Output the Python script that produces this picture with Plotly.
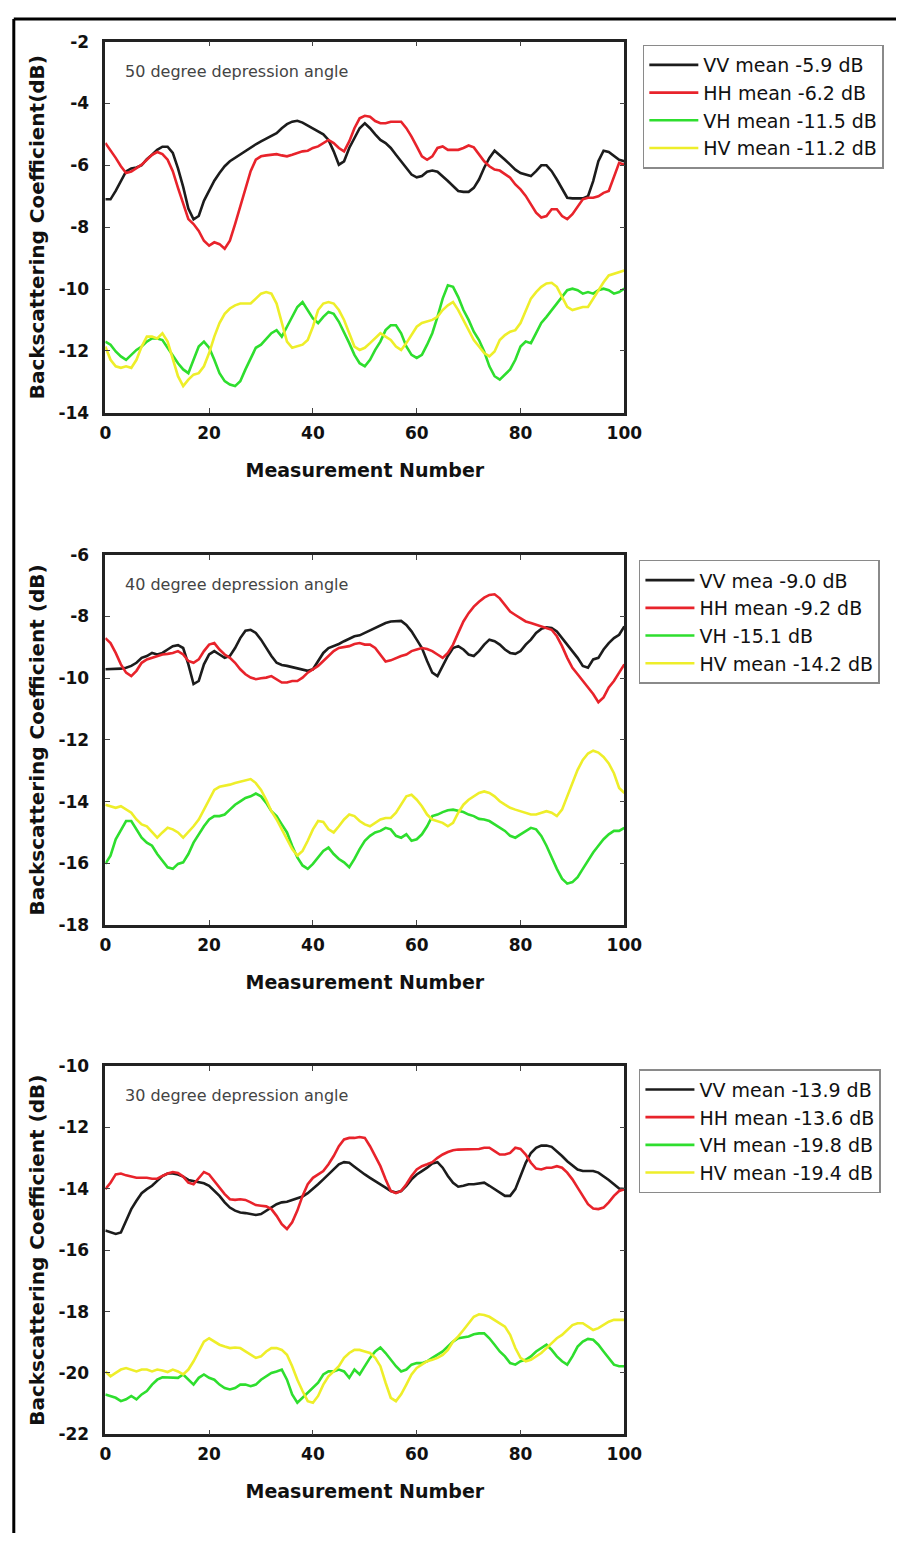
import plotly.graph_objects as go

W, H = 914, 1543

measurement = list(range(101))

# ---- 50 degree depression angle ----
vv50 = [-7.1, -7.1, -6.83, -6.5, -6.2, -6.1, -6.07, -6.0, -5.8, -5.66, -5.5, -5.4, -5.4, -5.6, -6.1, -6.7, -7.4, -7.75, -7.64, -7.15,
        -6.83, -6.5, -6.25, -6.03, -5.87, -5.76, -5.66, -5.55, -5.42, -5.32, -5.23, -5.14, -5.07, -4.96, -4.8, -4.67, -4.59, -4.56, -4.62, -4.72,
        -4.8, -4.9, -5.0, -5.18, -5.55, -5.98, -5.87, -5.44, -5.12, -4.8, -4.64, -4.8, -5.0, -5.18, -5.28, -5.44, -5.66, -5.87, -6.08, -6.3,
        -6.39, -6.35, -6.21, -6.17, -6.21, -6.35, -6.51, -6.67, -6.83, -6.86, -6.86, -6.73, -6.46, -6.08, -5.76, -5.53, -5.66, -5.82, -5.98, -6.14,
        -6.25, -6.3, -6.35, -6.19, -6.0, -6.0, -6.19, -6.46, -6.78, -7.05, -7.07, -7.07, -7.07, -7.0, -6.51, -5.87, -5.53, -5.57, -5.71, -5.82, -5.87]
hh50 = [-5.28, -5.5, -5.76, -6.03, -6.25, -6.2, -6.08, -5.98, -5.82, -5.66, -5.57, -5.64, -5.82, -6.19, -6.73, -7.26, -7.74, -7.9, -8.12, -8.44,
        -8.6, -8.49, -8.55, -8.7, -8.44, -7.9, -7.32, -6.73, -6.19, -5.82, -5.71, -5.68, -5.66, -5.64, -5.68, -5.71, -5.66, -5.6, -5.55, -5.53,
        -5.44, -5.39, -5.28, -5.18, -5.28, -5.44, -5.55, -5.23, -4.8, -4.48, -4.4, -4.43, -4.57, -4.64, -4.64, -4.59, -4.59, -4.59, -4.8, -5.07,
        -5.39, -5.71, -5.82, -5.71, -5.44, -5.39, -5.5, -5.5, -5.5, -5.44, -5.36, -5.42, -5.64, -5.87, -6.03, -6.14, -6.17, -6.28, -6.4, -6.62,
        -6.78, -6.99, -7.26, -7.53, -7.69, -7.64, -7.42, -7.42, -7.64, -7.74, -7.58, -7.32, -7.1, -7.05, -7.05, -7.0, -6.89, -6.83, -6.4, -5.92, -5.98]
vh50 = [-11.7, -11.8, -12.02, -12.18, -12.29, -12.13, -11.97, -11.86, -11.7, -11.6, -11.6, -11.65, -11.9, -12.18, -12.4, -12.6, -12.72, -12.29, -11.86, -11.7,
        -11.9, -12.29, -12.72, -12.98, -13.09, -13.14, -12.98, -12.6, -12.23, -11.9, -11.8, -11.6, -11.43, -11.33, -11.54, -11.22, -10.9, -10.58, -10.42, -10.68,
        -10.95, -11.1, -10.9, -10.74, -10.8, -11.06, -11.38, -11.75, -12.13, -12.4, -12.5, -12.29, -11.97, -11.7, -11.33, -11.17, -11.17, -11.43, -11.86, -12.13,
        -12.23, -12.13, -11.8, -11.43, -10.9, -10.31, -9.88, -9.93, -10.26, -10.68, -11.0, -11.38, -11.65, -12.02, -12.5, -12.82, -12.93, -12.77, -12.6, -12.29,
        -11.86, -11.7, -11.75, -11.43, -11.1, -10.9, -10.68, -10.47, -10.26, -10.04, -9.99, -10.04, -10.15, -10.1, -10.15, -10.04, -9.99, -10.04, -10.15, -10.1, -9.99]
hv50 = [-11.86, -12.29, -12.5, -12.55, -12.5, -12.55, -12.29, -11.86, -11.54, -11.54, -11.6, -11.43, -11.7, -12.29, -12.82, -13.14, -12.93, -12.77, -12.72, -12.5,
        -12.07, -11.54, -11.1, -10.8, -10.63, -10.53, -10.47, -10.47, -10.47, -10.31, -10.15, -10.1, -10.15, -10.47, -11.1, -11.7, -11.9, -11.86, -11.8, -11.65,
        -11.22, -10.68, -10.47, -10.42, -10.47, -10.68, -11.0, -11.43, -11.86, -11.97, -11.9, -11.75, -11.6, -11.43, -11.54, -11.65, -11.86, -11.97, -11.75, -11.49,
        -11.22, -11.1, -11.06, -11.0, -10.9, -10.68, -10.53, -10.42, -10.68, -11.0, -11.33, -11.65, -11.86, -12.07, -12.18, -12.02, -11.65, -11.49, -11.38, -11.33,
        -11.1, -10.68, -10.31, -10.1, -9.93, -9.82, -9.8, -9.93, -10.26, -10.58, -10.68, -10.63, -10.58, -10.58, -10.31, -10.04, -9.78, -9.56, -9.51, -9.46, -9.4]

# ---- 40 degree depression angle ----
vv40 = [-9.71, -9.71, -9.71, -9.69, -9.66, -9.6, -9.5, -9.34, -9.28, -9.18, -9.23, -9.18, -9.07, -8.96, -8.93, -9.02, -9.55, -10.19, -10.09, -9.55,
        -9.23, -9.12, -9.23, -9.34, -9.28, -9.02, -8.7, -8.46, -8.43, -8.53, -8.75, -9.02, -9.28, -9.5, -9.57, -9.6, -9.64, -9.66, -9.71, -9.76,
        -9.71, -9.44, -9.18, -9.02, -8.96, -8.89, -8.8, -8.72, -8.64, -8.61, -8.53, -8.46, -8.37, -8.29, -8.21, -8.16, -8.14, -8.14, -8.27, -8.48,
        -8.75, -9.02, -9.44, -9.82, -9.93, -9.6, -9.28, -9.02, -8.96, -9.07, -9.23, -9.28, -9.12, -8.91, -8.75, -8.8, -8.91, -9.07, -9.18, -9.21,
        -9.12, -8.91, -8.75, -8.53, -8.4, -8.35, -8.37, -8.48, -8.7, -8.91, -9.12, -9.34, -9.6, -9.66, -9.39, -9.34, -9.07, -8.86, -8.7, -8.59, -8.32]
hh40 = [-8.7, -8.86, -9.18, -9.55, -9.82, -9.93, -9.76, -9.5, -9.39, -9.34, -9.28, -9.23, -9.21, -9.18, -9.12, -9.23, -9.44, -9.5, -9.39, -9.12,
        -8.91, -8.86, -9.07, -9.23, -9.34, -9.5, -9.71, -9.87, -9.98, -10.03, -10.0, -9.98, -9.93, -10.03, -10.14, -10.14, -10.09, -10.09, -9.98, -9.82,
        -9.71, -9.6, -9.44, -9.28, -9.12, -9.02, -9.0, -8.96, -8.89, -8.86, -8.91, -8.91, -9.02, -9.23, -9.46, -9.42, -9.34, -9.28, -9.23, -9.12,
        -9.07, -9.02, -9.05, -9.12, -9.23, -9.34, -9.18, -8.91, -8.53, -8.16, -7.89, -7.68, -7.52, -7.39, -7.3, -7.28, -7.41, -7.63, -7.84, -7.95,
        -8.05, -8.16, -8.21, -8.27, -8.32, -8.37, -8.43, -8.64, -8.96, -9.34, -9.66, -9.87, -10.09, -10.3, -10.51, -10.78, -10.62, -10.3, -10.09, -9.82, -9.55]
vh40 = [-16.02, -15.75, -15.22, -14.9, -14.63, -14.63, -14.9, -15.17, -15.33, -15.43, -15.7, -15.91, -16.13, -16.18, -16.02, -15.97, -15.7, -15.33, -15.06, -14.8,
        -14.58, -14.47, -14.47, -14.42, -14.26, -14.1, -13.99, -13.88, -13.83, -13.74, -13.83, -14.04, -14.31, -14.47, -14.74, -15.0, -15.43, -15.81, -16.07, -16.18,
        -16.02, -15.81, -15.6, -15.49, -15.7, -15.86, -15.97, -16.13, -15.86, -15.54, -15.27, -15.11, -15.0, -14.95, -14.85, -14.9, -15.11, -15.17, -15.06, -15.27,
        -15.22, -15.06, -14.8, -14.47, -14.42, -14.34, -14.28, -14.26, -14.31, -14.34, -14.42, -14.47, -14.56, -14.58, -14.63, -14.74, -14.85, -14.95, -15.11, -15.17,
        -15.06, -14.95, -14.85, -14.9, -15.11, -15.43, -15.81, -16.18, -16.5, -16.66, -16.61, -16.45, -16.18, -15.91, -15.65, -15.43, -15.22, -15.06, -14.95, -14.95, -14.85]
hv40 = [-14.1, -14.15, -14.2, -14.15, -14.26, -14.36, -14.58, -14.74, -14.8, -15.0, -15.17, -15.0, -14.85, -14.9, -15.0, -15.17, -15.0, -14.8, -14.58, -14.26,
        -13.94, -13.62, -13.52, -13.49, -13.45, -13.4, -13.35, -13.3, -13.27, -13.4, -13.62, -13.94, -14.31, -14.58, -14.9, -15.22, -15.54, -15.75, -15.6, -15.27,
        -14.9, -14.63, -14.66, -14.9, -15.0, -14.8, -14.58, -14.42, -14.47, -14.63, -14.74, -14.8, -14.69, -14.58, -14.53, -14.53, -14.36, -14.1, -13.83, -13.78,
        -13.94, -14.15, -14.42, -14.58, -14.63, -14.69, -14.8, -14.69, -14.36, -14.1, -13.94, -13.83, -13.72, -13.67, -13.72, -13.83, -13.99, -14.1, -14.2, -14.26,
        -14.31, -14.36, -14.42, -14.42, -14.36, -14.31, -14.36, -14.47, -14.26, -13.83, -13.4, -12.97, -12.65, -12.44, -12.35, -12.41, -12.55, -12.76, -13.08, -13.56, -13.72]

# ---- 30 degree depression angle ----
vv30 = [-15.36, -15.42, -15.47, -15.42, -15.04, -14.66, -14.39, -14.14, -14.01, -13.9, -13.74, -13.58, -13.5, -13.5, -13.53, -13.6, -13.71, -13.74, -13.78, -13.82,
        -13.9, -14.07, -14.23, -14.44, -14.61, -14.71, -14.77, -14.79, -14.82, -14.85, -14.82, -14.71, -14.61, -14.5, -14.44, -14.42, -14.36, -14.31, -14.25, -14.14,
        -14.01, -13.85, -13.69, -13.53, -13.34, -13.2, -13.13, -13.15, -13.28, -13.42, -13.53, -13.64, -13.74, -13.85, -13.96, -14.07, -14.12, -14.07, -13.9, -13.69,
        -13.53, -13.42, -13.31, -13.17, -13.13, -13.31, -13.58, -13.8, -13.93, -13.9, -13.85, -13.85, -13.82, -13.8, -13.9, -14.01, -14.12, -14.23, -14.23, -14.01,
        -13.58, -13.15, -12.83, -12.66, -12.59, -12.59, -12.63, -12.77, -12.93, -13.1, -13.24, -13.37, -13.42, -13.42, -13.42, -13.47, -13.58, -13.71, -13.85, -13.99, -14.01]
hh30 = [-14.01, -13.8, -13.53, -13.5, -13.56, -13.6, -13.64, -13.64, -13.64, -13.67, -13.67, -13.58, -13.5, -13.45, -13.48, -13.6, -13.8, -13.85, -13.64, -13.45,
        -13.53, -13.74, -13.96, -14.17, -14.34, -14.36, -14.34, -14.36, -14.44, -14.53, -14.55, -14.57, -14.66, -14.88, -15.15, -15.31, -15.09, -14.71, -14.23, -13.85,
        -13.64, -13.53, -13.42, -13.2, -12.93, -12.61, -12.39, -12.34, -12.34, -12.31, -12.34, -12.61, -12.93, -13.26, -13.69, -14.07, -14.14, -14.07, -13.85, -13.58,
        -13.37, -13.26, -13.2, -13.13, -12.99, -12.88, -12.8, -12.74, -12.72, -12.72, -12.72, -12.72, -12.7, -12.66, -12.66, -12.77, -12.88, -12.88, -12.83, -12.66,
        -12.7, -12.88, -13.15, -13.34, -13.37, -13.31, -13.31, -13.26, -13.31, -13.47, -13.69, -13.96, -14.23, -14.5, -14.64, -14.66, -14.61, -14.44, -14.23, -14.07, -14.01]
vh30 = [-20.7, -20.75, -20.81, -20.92, -20.86, -20.75, -20.86, -20.7, -20.59, -20.38, -20.22, -20.14, -20.14, -20.14, -20.16, -20.05, -20.22, -20.38, -20.16, -20.05,
        -20.16, -20.22, -20.38, -20.49, -20.54, -20.49, -20.38, -20.38, -20.43, -20.38, -20.22, -20.11, -20.0, -19.95, -19.89, -20.22, -20.7, -20.97, -20.81, -20.65,
        -20.49, -20.32, -20.05, -19.95, -19.95, -19.89, -19.95, -20.16, -19.89, -20.05, -19.78, -19.51, -19.3, -19.17, -19.35, -19.57, -19.78, -19.95, -19.89, -19.73,
        -19.68, -19.68, -19.62, -19.51, -19.41, -19.3, -19.14, -18.98, -18.87, -18.85, -18.81, -18.74, -18.71, -18.71, -18.87, -19.08, -19.3, -19.46, -19.68, -19.73,
        -19.62, -19.57, -19.46, -19.3, -19.19, -19.08, -19.25, -19.46, -19.62, -19.73, -19.46, -19.14, -18.98, -18.89, -18.92, -19.08, -19.3, -19.51, -19.73, -19.78, -19.78]
hv30 = [-19.95, -20.11, -20.0, -19.89, -19.84, -19.89, -19.95, -19.89, -19.89, -19.95, -19.89, -19.92, -19.97, -19.89, -19.95, -20.05, -19.89, -19.62, -19.3, -18.98,
        -18.87, -18.98, -19.08, -19.14, -19.19, -19.17, -19.19, -19.3, -19.41, -19.51, -19.46, -19.3, -19.19, -19.19, -19.25, -19.41, -19.78, -20.22, -20.59, -20.92,
        -20.97, -20.75, -20.38, -20.11, -19.95, -19.78, -19.51, -19.35, -19.25, -19.25, -19.3, -19.35, -19.51, -19.78, -20.32, -20.81, -20.92, -20.7, -20.38, -20.05,
        -19.84, -19.73, -19.62, -19.57, -19.51, -19.41, -19.25, -18.98, -18.81, -18.6, -18.38, -18.17, -18.09, -18.11, -18.17, -18.27, -18.38, -18.49, -18.76, -19.19,
        -19.51, -19.62, -19.57, -19.46, -19.35, -19.19, -19.03, -18.87, -18.76, -18.6, -18.44, -18.38, -18.38, -18.49, -18.6, -18.54, -18.44, -18.33, -18.27, -18.27, -18.27]

panel_notes = ["50 degree depression angle", "40 degree depression angle", "30 degree depression angle"]
y_titles = ["Backscattering Coefficient(dB)", "Backscattering Coefficient (dB)", "Backscattering Coefficient (dB)"]
x_title = "Measurement Number"
y_ranges = [(-14, -2), (-18, -6), (-22, -10)]
x_tick_vals = [0, 20, 40, 60, 80, 100]
x_tick_text = ["0", "20", "40", "60", "80", "100"]
y_tick_vals = [[-14, -12, -10, -8, -6, -4, -2], [-18, -16, -14, -12, -10, -8, -6], [-22, -20, -18, -16, -14, -12, -10]]
y_tick_text = [["-14", "-12", "-10", "-8", "-6", "-4", "-2"],
               ["-18", "-16", "-14", "-12", "-10", "-8", "-6"],
               ["-22", "-20", "-18", "-16", "-14", "-12", "-10"]]
legend_labels = [
    ["VV mean -5.9 dB", "HH mean -6.2 dB", "VH mean -11.5 dB", "HV mean -11.2 dB"],
    ["VV mea -9.0 dB", "HH mean -9.2 dB", "VH -15.1 dB", "HV mean -14.2 dB"],
    ["VV mean -13.9 dB", "HH mean -13.6 dB", "VH mean -19.8 dB", "HV mean -19.4 dB"],
]
series = [[vv50, hh50, vh50, hv50], [vv40, hh40, vh40, hv40], [vv30, hh30, vh30, hv30]]
colors = ["#1c1c1c", "#e8232b", "#2ede2e", "#eeee2a"]

# pixel layout of the three panels (top, bottom), plot x extent and legend corners
panel_px = [(32, 408), (552, 927), (1070, 1443)]
legend_px = [(654, 35), (650, 557), (650, 1073)]
x_left, x_right = 102, 635

def px_x(p):
    return p / W

def px_y(p):
    return 1 - p / H

fig = go.Figure()
FONT = "DejaVu Sans, Liberation Sans, sans-serif"

for i in range(3):
    suffix = "" if i == 0 else str(i + 1)
    leg = "legend" if i == 0 else f"legend{i + 1}"
    for j in range(4):
        fig.add_trace(go.Scatter(
            x=measurement, y=series[i][j], mode="lines",
            name=legend_labels[i][j],
            line=dict(color=colors[j], width=2.6),
            xaxis="x" + suffix, yaxis="y" + suffix,
            legend=leg,
        ))
    top, bot = panel_px[i]
    axis_common = dict(
        showline=True, linecolor="#222", linewidth=2.5, mirror="ticks",
        ticks="inside", ticklen=5, tickwidth=1.2, tickcolor="#444",
        showgrid=False, zeroline=False,
        tickfont=dict(family=FONT, size=17, color="#111", weight="bold"),
    )
    fig.update_layout(**{
        "xaxis" + suffix: dict(
            domain=[px_x(x_left), px_x(x_right)], anchor="y" + suffix,
            range=[0, 100], tickvals=x_tick_vals, ticktext=x_tick_text,
            title=dict(text=x_title, font=dict(family=FONT, size=19, color="#111", weight="bold"), standoff=22),
            ticklabelstandoff=3,
            **axis_common,
        ),
        "yaxis" + suffix: dict(
            domain=[px_y(bot), px_y(top)], anchor="x" + suffix,
            range=list(y_ranges[i]), tickvals=y_tick_vals[i], ticktext=y_tick_text[i],
            title=dict(text=y_titles[i], font=dict(family=FONT, size=20, color="#111", weight="bold"), standoff=9),
            ticklabelstandoff=10,
            **axis_common,
        ),
        leg: dict(
            x=px_x(legend_px[i][0]), y=px_y(legend_px[i][1]),
            xanchor="left", yanchor="top",
            bordercolor="#8a8a8a", borderwidth=1.5, bgcolor="white",
            font=dict(family=FONT, size=19, color="#111"),
            itemwidth=49, tracegroupgap=0,
        ),
    })
    fig.add_annotation(
        text=panel_notes[i], xref="paper", yref="paper",
        x=px_x(120), y=px_y(top + 30), xanchor="left", yanchor="middle",
        showarrow=False, font=dict(family=FONT, size=16, color="#444"),
    )

# outer frame (top and left borders)
fig.add_shape(type="line", xref="paper", yref="paper", x0=px_x(8), x1=1, y0=px_y(9), y1=px_y(9),
              line=dict(color="black", width=3))
fig.add_shape(type="line", xref="paper", yref="paper", x0=px_x(8), x1=px_x(8), y0=0, y1=px_y(9),
              line=dict(color="black", width=3))

fig.update_layout(
    width=W, height=H, margin=dict(l=0, r=0, t=0, b=0),
    paper_bgcolor="white", plot_bgcolor="white", showlegend=True,
)

fig.write_html("out.html")
